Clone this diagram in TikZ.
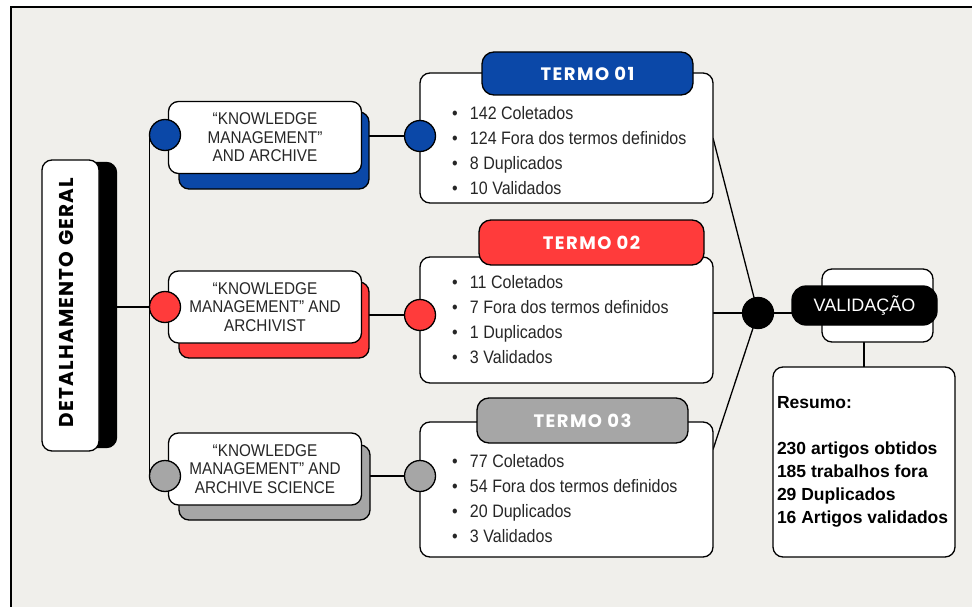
\documentclass[tikz,border=0pt]{standalone}
\usepackage{fontspec}
\setmainfont{Liberation Sans}
\newfontfamily\branchfont[FakeStretch=0.9]{Liberation Sans}
\newfontfamily\listfont[FakeStretch=0.89]{Liberation Sans}
\newfontfamily\handfont[LetterSpace=8]{Poppins}
\newfontfamily\detfont[LetterSpace=6]{Poppins}
\usetikzlibrary{calc}
\definecolor{bgc}{HTML}{F0EFEB}
\definecolor{bluec}{HTML}{0B48A8}
\definecolor{redc}{HTML}{FF3B3B}
\definecolor{grayc}{HTML}{A6A6A6}
\definecolor{txtc}{HTML}{262626}
\pgfdeclarelayer{backlayer}
\pgfdeclarelayer{linelayer}
\pgfsetlayers{backlayer,linelayer,main}
\begin{document}
\begin{tikzpicture}[x=1pt,y=-1pt,
  every node/.style={inner sep=0pt, outer sep=0pt},
  lnk/.style={draw=black, line width=1.3pt},
  wbox/.style={draw=black, fill=white, line width=1.3pt, rounded corners=10pt},
  shbox/.style={draw=black, line width=1.3pt, rounded corners=10pt},
  dotc/.style={circle, draw=black, line width=1.3pt, minimum size=31pt},
  hdr/.style={draw=black, line width=1.3pt, rounded corners=12pt, font=\handfont\bfseries\fontsize{18}{20}\selectfont, text=white},
  brtext/.style={font=\branchfont\fontsize{17}{18.5}\selectfont, align=center, text=txtc},
  lst/.style={font=\listfont\fontsize{18}{25}\selectfont, align=left, text=txtc, anchor=west},
]
\useasboundingbox (0,0) rectangle (972,607);
\begin{pgfonlayer}{backlayer}
\fill[white] (0,0) rectangle (972,607);
\fill[bgc] (11,7) rectangle (972,607);
\draw[line width=1.2pt] (11,607) -- (11,7) -- (972,7);
\end{pgfonlayer}

% Detalhamento geral
\node[shbox, fill=black, minimum width=57pt, minimum height=285pt] (detsh) at (88,305) {};
\node[wbox, minimum width=57pt, minimum height=291pt] (det) at (70.5,305.5) {};
\node[rotate=90, font=\detfont\bfseries\fontsize{20}{22}\selectfont] (dettext) at (66,302.5) {DETALHAMENTO GERAL};

% Branch boxes
\node[shbox, fill=bluec, minimum width=190pt, minimum height=77pt] (sh1) at (274,150.5) {};
\node[wbox, brtext, minimum width=193pt, minimum height=72pt] (b1) at (265,137.5) {“KNOWLEDGE\\MANAGEMENT”\\AND ARCHIVE};
\node[shbox, fill=redc, minimum width=190pt, minimum height=76pt] (sh2) at (274,320) {};
\node[wbox, brtext, minimum width=193pt, minimum height=72pt] (b2) at (265,307) {“KNOWLEDGE\\MANAGEMENT” AND\\ARCHIVIST};
\node[shbox, fill=grayc, minimum width=191pt, minimum height=75pt] (sh3) at (274.5,482.5) {};
\node[wbox, brtext, minimum width=193pt, minimum height=72pt] (b3) at (265,469) {“KNOWLEDGE\\MANAGEMENT” AND\\ARCHIVE SCIENCE};

% left circles
\node[dotc, fill=bluec] (l1) at (165,135) {};
\node[dotc, fill=redc] (l2) at (165,307) {};
\node[dotc, fill=grayc] (l3) at (165,476) {};

% term boxes
\node[wbox, minimum width=293pt, minimum height=130pt] (t1) at (566.5,138) {};
\node[hdr, fill=bluec, minimum width=211pt, minimum height=43pt] (h1) at (587.5,73.5) {TERMO 01};
\node[lst] (L1) at (452,150.5) {\makebox[18pt][l]{•}142 Coletados\\\makebox[18pt][l]{•}124 Fora dos termos definidos\\\makebox[18pt][l]{•}8 Duplicados\\\makebox[18pt][l]{•}10 Validados};

\node[wbox, minimum width=293pt, minimum height=126pt] (t2) at (566.5,320) {};
\node[hdr, fill=redc, minimum width=225pt, minimum height=45pt] (h2) at (591.5,242.5) {TERMO 02};
\node[lst] (L2) at (452,319.5) {\makebox[18pt][l]{•}11 Coletados\\\makebox[18pt][l]{•}7 Fora dos termos definidos\\\makebox[18pt][l]{•}1 Duplicados\\\makebox[18pt][l]{•}3 Validados};

\node[wbox, minimum width=293pt, minimum height=135pt] (t3) at (566.5,489.5) {};
\node[hdr, fill=grayc, minimum width=211pt, minimum height=45pt] (h3) at (582.5,420.5) {TERMO 03};
\node[lst] (L3) at (452,498.5) {\makebox[18pt][l]{•}77 Coletados\\\makebox[18pt][l]{•}54 Fora dos termos definidos\\\makebox[18pt][l]{•}20 Duplicados\\\makebox[18pt][l]{•}3 Validados};

% right circles
\node[dotc, fill=bluec] (r1) at (420,136) {};
\node[dotc, fill=redc] (r2) at (420,315) {};
\node[dotc, fill=grayc] (r3) at (420,476) {};

% hub and validation
\node[dotc, fill=black] (hub) at (758,313) {};
\node[wbox, minimum width=111pt, minimum height=73pt] (vback) at (877.5,305.5) {};
\node[draw=black, fill=black, line width=1.3pt, rounded corners=14pt, minimum width=145pt, minimum height=39pt, text=white, font=\fontsize{18}{20}\selectfont] (valid) at (864.5,305.5) {VALIDAÇÃO};
\node[wbox, minimum width=182pt, minimum height=190pt] (res) at (864,462) {};
\node[anchor=west, align=left, text=black, font=\bfseries\fontsize{17.5}{23}\selectfont] (restext) at (777,461.5) {Resumo:\\[23pt]230 artigos obtidos\\185 trabalhos fora\\29 Duplicados\\16 Artigos validados};

\begin{pgfonlayer}{linelayer}
\draw[lnk] (l1.west) -- (l3.west);
\draw[lnk] (l2.west -| detsh.east) -- (l2.west);
\draw[lnk] (r1.west -| sh1.east) -- (r1.west);
\draw[lnk] (r2.west -| sh2.east) -- (r2.west);
\draw[lnk] (r3.west -| sh3.east) -- (r3.west);
\draw[lnk] (t1.east) -- (hub.center);
\draw[lnk] (hub -| t2.east) -- (hub.center);
\draw[lnk] ([yshift=40pt]t3.east) -- (hub.center);
\draw[lnk] (hub.center) -- (hub -| valid.west);
\draw[lnk] (vback.south -| res.north) -- (res.north);
\end{pgfonlayer}
\end{tikzpicture}
\end{document}
